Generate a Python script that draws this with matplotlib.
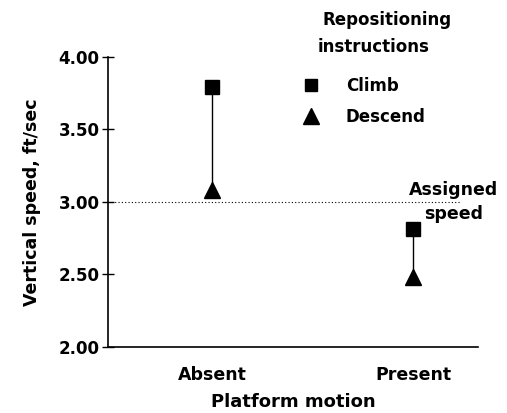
import matplotlib.pyplot as plt
from matplotlib.lines import Line2D

plt.rcParams['font.family'] = ['DejaVu Sans']
plt.rcParams['font.weight'] = 'bold'

# Mean vertical speed by platform motion and repositioning instruction
motion = ["Absent", "Present"]
climb = [3.79, 2.81]
descend = [3.08, 2.48]
assigned_speed = 3.00

W, H = 507, 413
fig = plt.figure(figsize=(W / 100, H / 100), dpi=100)
ax = fig.add_axes([0.213, 0.160, 0.730, 0.702])

xpos = list(range(len(motion)))

# Vertical connectors between climb and descend
for x, c, d in zip(xpos, climb, descend):
    ax.plot([x, x], [d, c], color='black', lw=1.0, zorder=2)

ax.plot(xpos, climb, linestyle='none', marker='s', ms=10, color='black', zorder=3)
ax.plot(xpos, descend, linestyle='none', marker='^', ms=12, color='black', zorder=3)

# Assigned speed reference line
ax.plot([-0.517, 1.24], [assigned_speed, assigned_speed], color='black',
        lw=0.8, linestyle=(0, (1, 2)), zorder=1)
ax.text(1.2, 3.0, "Assigned\nspeed", ha='center', va='center',
        fontsize=12.5, fontweight='bold', linespacing=1.45)

ax.set_xlim(-0.517, 1.323)
ax.set_ylim(2.0, 4.0)
ax.set_yticks([2.0, 2.5, 3.0, 3.5, 4.0])
ax.set_yticklabels(["2.00", "2.50", "3.00", "3.50", "4.00"])
ax.set_xticks(xpos)
ax.set_xticklabels(motion)

ax.tick_params(axis='y', direction='inout', length=8, width=1, labelsize=12, pad=2)
ax.tick_params(axis='x', length=0, labelsize=12.5, pad=14)
for lab in ax.get_xticklabels() + ax.get_yticklabels():
    lab.set_fontweight('bold')

ax.spines['top'].set_visible(False)
ax.spines['right'].set_visible(False)
ax.spines['left'].set_linewidth(1.2)
ax.spines['bottom'].set_linewidth(1.2)

ax.set_ylabel("Vertical speed, ft/sec", fontsize=12.5, fontweight='bold', labelpad=13)
ax.set_xlabel("Platform motion", fontsize=13, fontweight='bold', labelpad=6)

# Legend title as two left-aligned lines
fig.text(323 / W, 1 - 20 / H, "Repositioning", ha='left', va='center',
         fontsize=12, fontweight='bold')
fig.text(318 / W, 1 - 47 / H, "instructions", ha='left', va='center',
         fontsize=12, fontweight='bold')

handles = [
    Line2D([], [], linestyle='none', marker='s', ms=9, color='black'),
    Line2D([], [], linestyle='none', marker='^', ms=11, color='black'),
]
leg = fig.legend(handles, ["Climb", "Descend"], loc='upper left',
                 bbox_to_anchor=(294 / W, 1 - 77 / H), frameon=False,
                 prop={'size': 12, 'weight': 'bold'}, handlelength=2.0,
                 handletextpad=1.1, labelspacing=0.75, borderpad=0,
                 borderaxespad=0)

fig.savefig("out.png", dpi=100)
